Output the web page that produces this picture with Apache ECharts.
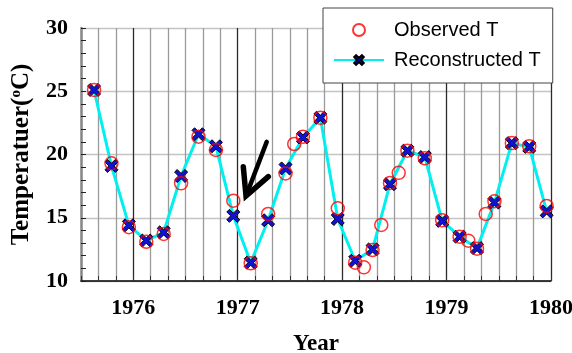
<!DOCTYPE html>
<html><head><meta charset="utf-8">
<script src="https://cdn.jsdelivr.net/npm/echarts@6/dist/echarts.min.js"></script>
<style>html,body{margin:0;padding:0;background:#fff}#c{width:572px;height:353px}</style>
</head><body><div id="c"></div>
<script>
// Reconstructed T (every two months, mid-month)
const recMonths = ['1975-08','1975-10','1975-12','1976-02','1976-04','1976-06','1976-08','1976-10','1976-12',
  '1977-02','1977-04','1977-06','1977-08','1977-10','1977-12','1978-02','1978-04','1978-06','1978-08','1978-10','1978-12',
  '1979-02','1979-04','1979-06','1979-08','1979-10','1979-12'];
const recValues = [25.1,19.1,14.4,13.2,13.85,18.3,21.6,20.65,15.15,
  11.45,14.8,18.9,21.35,22.9,14.9,11.6,12.5,17.65,20.3,19.8,14.75,
  13.5,12.6,16.2,20.9,20.6,15.5];
// Observed T
const obsMonths = ['1975-08','1975-10','1975-12','1976-02','1976-04','1976-06','1976-08','1976-10','1976-12',
  '1977-02','1977-04','1977-06','1977-07','1977-08','1977-10','1977-12','1978-02','1978-03','1978-04','1978-05','1978-06','1978-07','1978-08','1978-10','1978-12',
  '1979-02','1979-03','1979-04','1979-05','1979-06','1979-08','1979-10','1979-12'];
const obsValues = [25.1,19.3,14.25,13.1,13.72,17.72,21.41,20.36,16.35,
  11.4,15.3,18.5,20.83,21.4,22.9,15.75,11.45,11.08,12.45,14.43,17.75,18.55,20.3,19.7,14.8,
  13.5,13.19,12.55,15.3,16.3,20.9,20.65,15.93];
const yearLabels = [1976,1977,1978,1979,1980];
const yMin = 10, yMax = 30, yStep = 5;
// arrow annotation (data coordinates)
const arrowTail = [1977.278, 21.0];
const arrowTip = [1977.08, 16.72];
const arrowWingL = [1977.054, 19.04];
const arrowWingR = [1977.293, 18.25];

function toYear(s){const p=s.split('-').map(Number);return p[0]+(p[1]-0.5)/12;}
const recData = recMonths.map((m,i)=>[toYear(m),recValues[i]]);
const obsData = obsMonths.map((m,i)=>[toYear(m),obsValues[i]]);

const serif = '"Liberation Serif","Times New Roman",serif';
const sans = '"Liberation Sans",Arial,sans-serif';
const xPath = 'path://M2,0 L5,3 L8,0 L10,2 L7,5 L10,8 L8,10 L5,7 L2,10 L0,8 L3,5 L0,2 Z';
const g='#9a9a9a', d='#2a2a2a';

const chart = echarts.init(document.getElementById('c'));
chart.setOption({
  animation:false,
  backgroundColor:'#fff',
  grid:{left:81,right:21,top:28,bottom:72,containLabel:false,outerBoundsMode:'none'},
  legend:{
    data:['Observed T','Reconstructed T'],
    orient:'vertical', left:323, top:8,
    padding:[12,12,13,10],
    itemWidth:50, itemHeight:12, itemGap:10,
    backgroundColor:'#fff', borderColor:'#444', borderWidth:1, borderRadius:0,
    textStyle:{fontFamily:sans,fontSize:20,color:'#000',lineHeight:20,padding:[0,0,0,5]}
  },
  xAxis:{
    type:'value', min:1975.5, max:1980, interval:1/6,
    name:'Year', nameLocation:'middle', nameGap:52,
    nameTextStyle:{fontFamily:serif,fontWeight:'bold',fontSize:23,color:'#000'},
    axisLine:{show:true,onZero:false,lineStyle:{color:'#000',width:1.5}},
    axisTick:{show:true,inside:true,length:5,lineStyle:{color:'#333'}},
    axisLabel:{margin:16,fontFamily:serif,fontWeight:'bold',fontSize:22,color:'#000',
      formatter:v=>{const r=Math.round(v);return (Math.abs(v-r)<1e-6&&yearLabels.includes(r))?String(r):'';}},
    splitLine:{show:true,lineStyle:{color:[g,g,g,d,g,g],width:1.3}}
  },
  yAxis:{
    type:'value', min:yMin, max:yMax, interval:yStep,
    name:'Temperatuer({s|o}C)', nameLocation:'middle', nameGap:47, nameRotate:90,
    nameTextStyle:{fontFamily:serif,fontWeight:'bold',fontSize:25,color:'#000',
      rich:{s:{fontFamily:serif,fontWeight:'bold',fontSize:15,verticalAlign:'top',color:'#000'}}},
    axisLine:{show:true,lineStyle:{color:'#888',width:2.5}},
    axisTick:{show:true,inside:true,length:5,lineStyle:{color:'#222'}},
    minorTick:{show:true,splitNumber:5,length:5,lineStyle:{color:'#222'}},
    axisLabel:{margin:13,fontFamily:serif,fontWeight:'bold',fontSize:22,color:'#000'},
    splitLine:{show:true,lineStyle:{color:'#c4c4c4',width:1.3}}
  },
  series:[
    {name:'Observed T',type:'scatter',data:obsData,symbol:'circle',symbolSize:13,z:4,
      itemStyle:{color:'transparent',borderColor:'#ff0000',borderWidth:1.5}},
    {name:'Reconstructed T',type:'line',data:recData,symbol:xPath,symbolSize:13,showAllSymbol:true,z:3,
      itemStyle:{color:'#1212d6',borderColor:'#000',borderWidth:1},
      lineStyle:{color:'#00f0f0',width:3}}
  ]
});
const px = p=>chart.convertToPixel({gridIndex:0},p);
chart.setOption({graphic:[
  {type:'polyline',z:10,shape:{points:[px(arrowTail),px(arrowTip)]},style:{stroke:'#000',lineWidth:4.5,lineCap:'round',fill:null}},
  {type:'polyline',z:10,shape:{points:[px(arrowWingL),px(arrowTip),px(arrowWingR)]},style:{stroke:'#000',lineWidth:5.5,lineJoin:'miter',lineCap:'round',fill:null}}
]});
</script></body></html>
